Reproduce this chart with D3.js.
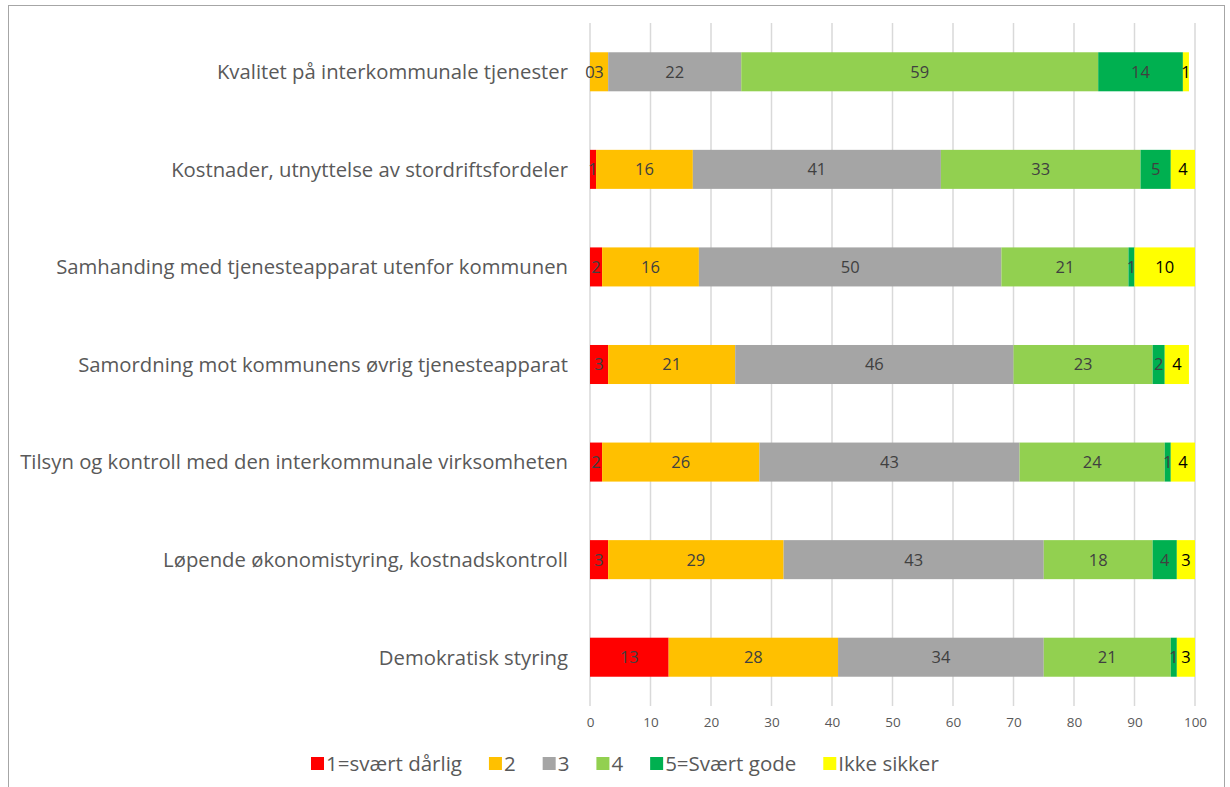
<!DOCTYPE html>
<html>
<head>
<meta charset="utf-8">
<script src="https://cdn.jsdelivr.net/npm/d3@7"></script>
<style>
  body { margin: 0; background: #fff; }
  svg { font-family: "Open Sans", sans-serif; }
</style>
</head>
<body>
<svg id="chart" width="1230" height="787"></svg>
<script>
// Categories, top to bottom
const categories = [
  "Kvalitet på interkommunale tjenester",
  "Kostnader, utnyttelse av stordriftsfordeler",
  "Samhanding med tjenesteapparat utenfor kommunen",
  "Samordning mot kommunens øvrig tjenesteapparat",
  "Tilsyn og kontroll med den interkommunale virksomheten",
  "Løpende økonomistyring, kostnadskontroll",
  "Demokratisk styring"
];

const seriesNames = ["1=svært dårlig", "2", "3", "4", "5=Svært gode", "Ikke sikker"];
const seriesColors = ["#FF0000", "#FFC000", "#A5A5A5", "#92D050", "#00B050", "#FFFF00"];

// one array per series, in category order
const s1 = [0, 1, 2, 3, 2, 3, 13];
const s2 = [3, 16, 16, 21, 26, 29, 28];
const s3 = [22, 41, 50, 46, 43, 43, 34];
const s4 = [59, 33, 21, 23, 24, 18, 21];
const s5 = [14, 5, 1, 2, 1, 4, 1];
const s6 = [1, 4, 10, 4, 4, 3, 3];
const seriesValues = [s1, s2, s3, s4, s5, s6];

const xTicks = [0, 10, 20, 30, 40, 50, 60, 70, 80, 90, 100];

const svg = d3.select("#chart");

// chart border
svg.append("rect")
  .attr("x", 8.5).attr("y", 5.5)
  .attr("width", 1216).attr("height", 790)
  .attr("fill", "none").attr("stroke", "#a6a6a6").attr("stroke-width", 1);

const x = d3.scaleLinear().domain([0, 100]).range([590, 1195]);
const y = d3.scaleBand().domain(categories).range([23, 706]).paddingInner(0.6).paddingOuter(0.3);

// gridlines
svg.append("g").selectAll("line")
  .data(xTicks)
  .join("line")
  .attr("x1", d => x(d)).attr("x2", d => x(d))
  .attr("y1", 23).attr("y2", 706)
  .attr("stroke", "#d9d9d9").attr("stroke-width", 1.5);

// x axis labels
const xAxis = svg.append("g")
  .attr("transform", "translate(0,706)")
  .call(d3.axisBottom(x).tickValues(xTicks).tickSize(0).tickPadding(11));
xAxis.select(".domain").remove();
xAxis.selectAll("text").attr("font-size", 13.5).attr("fill", "#595959")
  .attr("font-family", "'Open Sans', sans-serif");

// stack
const rows = categories.map((c, i) => {
  const r = { cat: c };
  seriesNames.forEach((s, j) => { r[s] = seriesValues[j][i]; });
  return r;
});
const stacked = d3.stack().keys(seriesNames)(rows);

svg.append("g").selectAll("g")
  .data(stacked)
  .join("g")
  .attr("fill", (d, i) => seriesColors[i])
  .selectAll("rect")
  .data(d => d)
  .join("rect")
  .attr("x", d => x(d[0]))
  .attr("width", d => x(d[1]) - x(d[0]))
  .attr("y", d => y(d.data.cat))
  .attr("height", y.bandwidth());

// data labels drawn after all bars so none get covered
svg.append("g").selectAll("g")
  .data(stacked)
  .join("g")
  .attr("fill", (d, i) => i === 5 ? "#000" : "#404040")
  .selectAll("text")
  .data(d => d)
  .join("text")
  .attr("x", d => (x(d[0]) + x(d[1])) / 2)
  .attr("y", d => y(d.data.cat) + y.bandwidth() / 2)
  .attr("dy", "0.36em")
  .attr("text-anchor", "middle")
  .attr("font-size", 16.5)
  .text(d => d[1] - d[0]);

// category labels
svg.append("g").selectAll("text")
  .data(categories)
  .join("text")
  .attr("x", 568)
  .attr("y", d => y(d) + y.bandwidth() / 2)
  .attr("dy", "0.36em")
  .attr("text-anchor", "end")
  .attr("font-size", 20.3)
  .attr("fill", "#595959")
  .text(d => d);

// legend
const legend = svg.append("g").attr("transform", "translate(0,764)");
let lx = 311;
seriesNames.forEach((name, i) => {
  legend.append("rect")
    .attr("x", lx).attr("y", -7).attr("width", 13).attr("height", 13)
    .attr("fill", seriesColors[i]);
  const t = legend.append("text")
    .attr("x", lx + 15).attr("dy", "0.36em")
    .attr("font-size", 20.5).attr("fill", "#595959")
    .text(name);
  lx += 15 + t.node().getComputedTextLength() + 27;
});
</script>
</body>
</html>
